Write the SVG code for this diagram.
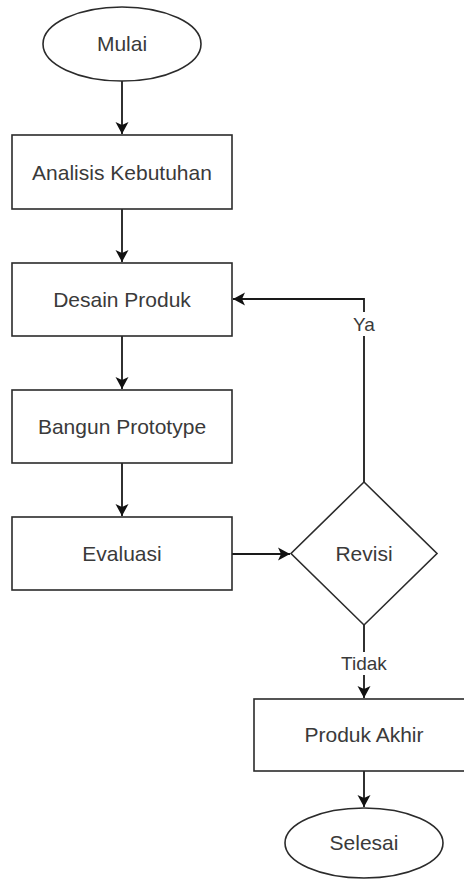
<svg xmlns="http://www.w3.org/2000/svg" width="464" height="879" viewBox="0 0 464 879">
  <style>
    .shape { fill: #ffffff; stroke: #2b2b2b; stroke-width: 1.6; }
    .conn { fill: none; stroke: #1a1a1a; stroke-width: 1.8; }
    .lbl { font-family: "Liberation Sans", Arial, sans-serif; font-size: 21px; fill: #3a3a3a; text-anchor: middle; }
    .elbl { font-family: "Liberation Sans", Arial, sans-serif; font-size: 19px; fill: #3a3a3a; text-anchor: middle; }
  </style>
  <defs>
    <marker id="arr" markerUnits="userSpaceOnUse" markerWidth="13" markerHeight="13" refX="12" refY="6.5" orient="auto" overflow="visible">
      <path d="M0,0 L12,6.5 L0,13 L3,6.5 z" fill="#111111"/>
    </marker>
  </defs>
  <rect width="464" height="879" fill="#ffffff"/>

  <g id="connectors">
    <line class="conn" x1="122" y1="81" x2="122" y2="134" marker-end="url(#arr)"/>
    <line class="conn" x1="122" y1="209" x2="122" y2="262" marker-end="url(#arr)"/>
    <line class="conn" x1="122" y1="336" x2="122" y2="389" marker-end="url(#arr)"/>
    <line class="conn" x1="122" y1="463" x2="122" y2="516" marker-end="url(#arr)"/>
    <line class="conn" x1="232" y1="554" x2="290" y2="554" marker-end="url(#arr)"/>
    <polyline class="conn" points="364,482 364,299 233,299" marker-end="url(#arr)"/>
    <line class="conn" x1="364" y1="625" x2="364" y2="698" marker-end="url(#arr)"/>
    <line class="conn" x1="364" y1="771" x2="364" y2="807" marker-end="url(#arr)"/>
    <rect x="350" y="312" width="28" height="24" fill="#ffffff"/>
    <text class="elbl" x="364" y="331">Ya</text>
    <rect x="340" y="652" width="48" height="23" fill="#ffffff"/>
    <text class="elbl" x="364" y="670">Tidak</text>
  </g>

  <g id="mulai">
    <ellipse class="shape" cx="122" cy="44" rx="79" ry="37"/>
    <text class="lbl" x="122" y="51">Mulai</text>
  </g>
  <g id="analisis">
    <rect class="shape" x="12" y="135" width="220" height="74"/>
    <text class="lbl" x="122" y="180">Analisis Kebutuhan</text>
  </g>
  <g id="desain">
    <rect class="shape" x="12" y="263" width="220" height="73"/>
    <text class="lbl" x="122" y="307">Desain Produk</text>
  </g>
  <g id="bangun">
    <rect class="shape" x="12" y="390" width="220" height="73"/>
    <text class="lbl" x="122" y="434">Bangun Prototype</text>
  </g>
  <g id="evaluasi">
    <rect class="shape" x="12" y="517" width="220" height="73"/>
    <text class="lbl" x="122" y="561">Evaluasi</text>
  </g>
  <g id="revisi">
    <polygon class="shape" points="364,482 437,553.5 364,625 291,553.5"/>
    <text class="lbl" x="364" y="561">Revisi</text>
  </g>
  <g id="produk-akhir">
    <rect class="shape" x="254" y="699" width="220" height="72"/>
    <text class="lbl" x="364" y="742">Produk Akhir</text>
  </g>
  <g id="selesai">
    <ellipse class="shape" cx="364" cy="843" rx="79" ry="35"/>
    <text class="lbl" x="364" y="850">Selesai</text>
  </g>
</svg>
